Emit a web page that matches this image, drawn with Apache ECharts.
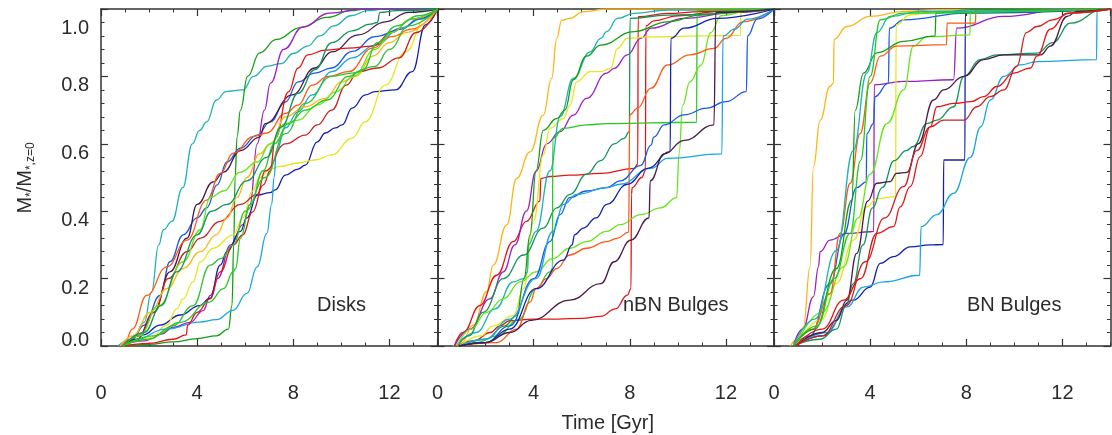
<!DOCTYPE html>
<html>
<head>
<meta charset="utf-8">
<script src="https://cdn.jsdelivr.net/npm/echarts@6/dist/echarts.min.js"></script>
<style>html,body{margin:0;padding:0;background:#fff}#c{width:1112px;height:435px}</style>
</head>
<body>
<div id="c"></div>
<script>
// ---------- tick labels ----------
const xTicks = [0, 4, 8, 12];
const yTicks = [0.0, 0.2, 0.4, 0.6, 0.8, 1.0];
const panelNames = ['Disks', 'nBN Bulges', 'BN Bulges'];

// ---------- Disks: [time Gyr, M/M(z=0)] ----------
const d_teal = [[0.7,0],[1.3,0.02],[1.8,0.07],[2.1,0.16],[2.4,0.3],[2.6,0.345],[2.95,0.37],[3.4,0.47],[3.8,0.6],[4.1,0.64],[4.4,0.665],[4.8,0.73],[5.2,0.755],[5.9,0.76],[6.35,0.8],[6.9,0.83],[7.5,0.838],[8.0,0.868],[8.6,0.89],[9.1,0.92],[9.7,0.95],[10.4,0.98],[11.1,0.995],[11.8,1],[14,1]];
const d_green = [[0.9,0],[2,0.005],[3,0.012],[4,0.022],[4.8,0.03],[5.3,0.05],[5.45,0.12],[5.52,0.3],[5.58,0.5],[5.66,0.62],[5.8,0.7],[6.1,0.8],[6.6,0.87],[7.3,0.91],[8.3,0.945],[9.4,0.975],[10.4,0.995],[11,1],[14,1]];
const d_purple = [[0.8,0],[1.8,0.015],[2.5,0.035],[3.0,0.055],[3.7,0.07],[4.25,0.105],[4.55,0.15],[4.85,0.2],[5.4,0.3],[5.9,0.36],[6.2,0.42],[6.5,0.6],[6.8,0.7],[7.05,0.78],[7.6,0.88],[8.4,0.947],[9.5,0.988],[10.9,1],[14,1]];
const d_darkblue = [[0.9,0],[1.75,0.033],[2.46,0.062],[3.3,0.092],[4.1,0.12],[4.54,0.142],[4.96,0.24],[5.24,0.28],[5.8,0.34],[6.07,0.38],[6.5,0.448],[7.04,0.455],[7.25,0.463],[7.67,0.507],[8.2,0.525],[8.5,0.537],[9.0,0.606],[9.33,0.632],[9.75,0.647],[10.03,0.656],[10.45,0.706],[11.0,0.745],[11.4,0.755],[12.25,0.76],[12.95,0.814],[13.5,0.953],[14,1]];
const d_yellow = [[0.9,0],[2.04,0.024],[2.74,0.062],[3.15,0.11],[3.42,0.14],[3.83,0.19],[4.13,0.25],[4.67,0.29],[5.5,0.33],[5.9,0.38],[6.3,0.46],[6.6,0.5],[7.04,0.525],[7.4,0.532],[8.2,0.543],[8.9,0.552],[9.6,0.567],[10.45,0.617],[11.0,0.666],[11.83,0.774],[12.67,0.873],[13.5,0.972],[14,1]];
const d_lightblue = [[0.9,0],[1.35,0.017],[2.7,0.05],[4.1,0.071],[4.8,0.078],[5.5,0.106],[6.07,0.156],[6.5,0.235],[6.9,0.334],[7.1,0.42],[7.2,0.5],[7.3,0.58],[7.67,0.647],[8.2,0.695],[8.78,0.745],[9.6,0.814],[10.45,0.855],[11.4,0.893],[12.5,0.944],[13.3,0.97],[14,1]];
const d_blue = [[0.9,0],[1.3,0.02],[1.8,0.062],[2.46,0.15],[2.87,0.25],[3.42,0.33],[4.0,0.38],[4.4,0.41],[4.83,0.478],[5.24,0.546],[5.8,0.587],[6.5,0.626],[7.04,0.665],[7.67,0.724],[8.2,0.784],[8.9,0.81],[9.6,0.825],[10.45,0.874],[11.4,0.918],[12.5,0.94],[13.2,0.97],[14,1]];
const d_plum = [[0.9,0],[1.5,0.02],[2.2,0.1],[2.87,0.22],[3.58,0.32],[4.0,0.42],[4.67,0.487],[5.1,0.516],[5.8,0.58],[6.6,0.62],[6.83,0.66],[7.96,0.745],[8.9,0.825],[9.6,0.873],[10.7,0.923],[11.83,0.962],[12.8,0.99],[14,1]];
const d_orangered = [[0.8,0],[1.0,0.01],[1.3,0.05],[1.9,0.15],[2.74,0.235],[3.57,0.314],[4.4,0.433],[4.96,0.512],[5.5,0.572],[6.35,0.622],[6.9,0.632],[7.67,0.69],[8.2,0.715],[8.78,0.774],[9.46,0.8],[10.3,0.814],[11.3,0.884],[12.1,0.918],[12.9,0.94],[14,1]];
const d_red = [[0.9,0],[2.0,0.008],[3.0,0.02],[3.55,0.033],[3.6,0.062],[4.0,0.1],[4.54,0.14],[4.96,0.22],[5.5,0.3],[5.9,0.33],[6.3,0.397],[6.75,0.478],[7.04,0.52],[7.25,0.617],[7.8,0.754],[8.2,0.825],[8.6,0.864],[9.33,0.878],[10.3,0.884],[11.3,0.89],[12.1,0.93],[12.9,0.97],[14,1]];
const d_red2 = [[0.9,0],[1.6,0.03],[2.2,0.1],[2.8,0.2],[3.58,0.28],[4.13,0.32],[4.96,0.37],[5.8,0.42],[6.5,0.45],[6.83,0.52],[7.67,0.6],[8.5,0.626],[9.0,0.656],[9.6,0.7],[10.2,0.774],[10.7,0.814],[11.5,0.825],[12.4,0.855],[13.1,0.93],[14,1]];
const d_orange = [[0.8,0],[1.33,0.03],[2.04,0.1],[2.74,0.17],[3.42,0.23],[4.13,0.28],[4.8,0.33],[5.24,0.38],[5.65,0.44],[6.07,0.5],[6.6,0.57],[7.04,0.6],[7.67,0.68],[8.5,0.71],[9.33,0.735],[10.0,0.784],[10.6,0.8],[11.3,0.86],[12.0,0.9],[12.7,0.93],[14,1]];
const d_lime = [[0.9,0],[1.6,0.03],[2.4,0.12],[3.42,0.25],[4.13,0.345],[4.54,0.44],[5.1,0.46],[5.8,0.516],[6.5,0.546],[7.04,0.6],[7.67,0.66],[8.2,0.67],[9.0,0.715],[9.8,0.755],[10.5,0.8],[11.4,0.88],[12.1,0.93],[12.9,0.97],[14,1]];
const d_bgreen = [[0.9,0],[2.2,0.03],[3.3,0.07],[4.5,0.13],[5.1,0.17],[5.5,0.22],[5.6,0.23],[5.8,0.32],[6.2,0.42],[6.75,0.52],[7.2,0.6],[7.8,0.66],[8.5,0.7],[9.4,0.73],[10.3,0.8],[10.9,0.82],[11.5,0.9],[12.3,0.95],[13.2,0.98],[14,1]];
const d_seagreen = [[0.9,0],[1.8,0.04],[2.5,0.12],[3.15,0.22],[4.0,0.33],[4.6,0.4],[5.24,0.42],[6.07,0.49],[6.9,0.56],[7.5,0.65],[8.2,0.75],[8.9,0.82],[9.6,0.9],[10.45,0.935],[11.2,0.955],[11.5,0.96],[11.6,0.99],[12.3,0.995],[14,1]];
const d_green2 = [[0.9,0],[2.0,0.02],[3.0,0.06],[3.83,0.12],[4.54,0.24],[5.0,0.26],[5.5,0.3],[6.0,0.4],[6.83,0.5],[7.67,0.63],[8.5,0.72],[9.6,0.8],[10.45,0.81],[11.4,0.83],[12.0,0.88],[12.8,0.95],[14,1]];

// ---------- nBN Bulges ----------
const n_orange = [[0.65,0],[1.0,0.01],[1.49,0.062],[2.04,0.161],[2.32,0.24],[2.88,0.359],[3.29,0.497],[3.85,0.576],[4.4,0.685],[4.75,0.794],[4.96,0.913],[5.17,0.967],[5.5,0.972],[6.07,0.992],[7.04,1],[14,1]];
const n_red = [[0.7,0],[1.07,0.04],[1.76,0.12],[2.46,0.21],[3.15,0.31],[3.7,0.37],[4.26,0.43],[4.3,0.497],[4.68,0.503],[5.5,0.507],[6.79,0.512],[8.18,0.527],[8.33,0.54],[8.35,0.977],[9.57,0.987],[10.96,0.992],[14,1]];
const n_redlow = [[0.8,0],[1.5,0.015],[2.2,0.04],[2.6,0.06],[3.0,0.075],[4.0,0.08],[5.0,0.08],[6.0,0.082],[6.79,0.088],[7.4,0.11],[7.9,0.151],[8.05,0.17],[8.07,0.45],[8.1,0.47],[8.5,0.5],[8.65,0.52],[8.67,0.95],[9.0,0.965],[10,0.98],[12,0.995],[14,1]];
const n_purple = [[0.7,0],[1.35,0.05],[2.18,0.14],[2.74,0.22],[3.22,0.3],[3.7,0.4],[4.1,0.518],[4.54,0.6],[5.1,0.636],[5.65,0.685],[6.2,0.735],[7.04,0.81],[7.35,0.824],[7.9,0.864],[8.46,0.913],[8.88,0.943],[10.26,0.972],[12.35,0.99],[14,1]];
const n_yellow = [[0.9,0],[1.8,0.03],[2.32,0.06],[3.15,0.09],[3.58,0.17],[4.0,0.37],[4.4,0.567],[4.68,0.646],[5.24,0.675],[5.52,0.715],[5.79,0.784],[6.35,0.814],[6.79,0.814],[7.2,0.824],[7.49,0.883],[7.9,0.913],[8.88,0.917],[10.96,0.92],[12.6,0.922],[12.62,0.993],[14,1]];
const n_teal = [[0.8,0],[1.6,0.04],[2.4,0.11],[3.15,0.19],[3.58,0.2],[3.75,0.22],[3.78,0.3],[4.1,0.34],[4.68,0.52],[5.1,0.68],[5.65,0.794],[6.35,0.873],[6.79,0.913],[7.04,0.933],[7.49,0.972],[8.18,0.987],[9.57,0.997],[14,1]];
const n_green = [[0.9,0],[2.0,0.02],[2.8,0.06],[3.29,0.09],[3.6,0.2],[3.85,0.33],[4.1,0.52],[4.4,0.64],[4.96,0.675],[5.3,0.7],[5.65,0.79],[6.2,0.86],[6.79,0.893],[8.18,0.933],[9.57,0.962],[10.96,0.982],[12.35,0.993],[14,1]];
const n_seagreen = [[0.8,0],[1.3,0.03],[1.9,0.1],[2.74,0.2],[3.58,0.27],[4.4,0.35],[4.96,0.41],[5.52,0.45],[6.2,0.51],[6.79,0.55],[7.35,0.6],[7.76,0.616],[7.98,0.636],[8.01,0.972],[9.57,0.982],[14,1]];
const n_bgreen = [[0.9,0],[1.6,0.01],[2.5,0.03],[3.4,0.08],[4.1,0.17],[4.68,0.22],[4.78,0.23],[4.8,0.616],[5.24,0.646],[6.2,0.656],[7.04,0.66],[10.78,0.664],[10.8,0.997],[14,1]];
const n_lime = [[0.8,0],[1.4,0.05],[2.04,0.1],[2.74,0.14],[3.44,0.19],[4.1,0.22],[4.8,0.26],[5.5,0.29],[6.2,0.31],[7.04,0.34],[7.6,0.36],[8.46,0.39],[9.29,0.41],[9.95,0.44],[10.05,0.57],[10.2,0.715],[10.5,0.784],[10.96,0.833],[11.37,0.93],[11.8,0.98],[13.0,0.995],[14,1]];
const n_orangered = [[0.9,0],[2.46,0.01],[3.29,0.05],[3.85,0.13],[4.1,0.17],[4.54,0.2],[4.96,0.23],[5.5,0.27],[6.2,0.29],[7.04,0.31],[7.49,0.32],[7.95,0.338],[8.0,0.686],[8.32,0.706],[8.88,0.765],[9.57,0.834],[10.5,0.864],[11.5,0.883],[12.0,0.913],[12.7,0.962],[14,1]];
const n_blue = [[0.9,0],[2.0,0.01],[3.0,0.06],[4.0,0.2],[4.68,0.31],[5.1,0.39],[5.5,0.44],[6.2,0.46],[7.04,0.47],[7.6,0.49],[8.46,0.536],[8.88,0.596],[9.0,0.62],[9.43,0.656],[10.26,0.686],[11.2,0.706],[12.0,0.725],[12.85,0.755],[12.9,0.92],[13.3,0.97],[14,1]];
const n_lightblue = [[0.9,0],[2.0,0.02],[3.0,0.08],[4.1,0.2],[4.8,0.34],[5.24,0.42],[5.8,0.45],[7.04,0.47],[7.6,0.48],[8.88,0.527],[9.57,0.557],[11.83,0.57],[11.88,0.92],[12.35,0.94],[12.9,0.97],[14,1]];
const n_darkblue = [[0.9,0],[2.0,0.01],[3.0,0.05],[4.1,0.17],[5.24,0.255],[5.6,0.3],[5.7,0.33],[6.07,0.35],[6.6,0.38],[7.04,0.42],[7.9,0.48],[8.74,0.527],[9.68,0.577],[9.71,0.913],[10.26,0.943],[11.65,0.972],[14,1]];
const n_plum = [[0.9,0],[2.0,0.01],[3.0,0.04],[3.9,0.076],[5.5,0.136],[6.8,0.185],[7.35,0.25],[8.04,0.314],[8.8,0.38],[8.85,0.49],[9.43,0.57],[10.26,0.61],[11.5,0.656],[11.58,0.99],[14,1]];

// ---------- BN Bulges ----------
const b_orange = [[0.67,0],[1.0,0.02],[1.22,0.056],[1.5,0.235],[1.64,0.53],[1.92,0.67],[2.33,0.77],[2.47,0.78],[2.5,0.91],[3.03,0.948],[4.0,0.978],[5.4,0.993],[6.8,0.998],[14,1]];
const b_purple = [[0.8,0],[1.2,0.05],[1.64,0.146],[1.85,0.235],[1.92,0.28],[2.33,0.314],[3.03,0.334],[4.0,0.339],[4.15,0.34],[4.17,0.775],[5.39,0.785],[7.47,0.79],[7.6,0.943],[9.56,0.978],[12.05,0.998],[14,1]];
const b_blue = [[0.8,0],[1.5,0.03],[2.33,0.185],[2.9,0.33],[3.44,0.47],[3.84,0.487],[3.86,0.63],[4.14,0.66],[4.2,0.74],[4.76,0.78],[4.8,0.943],[5.39,0.968],[8.03,0.988],[14,1]];
const b_darkblue = [[0.9,0],[2.0,0.03],[3.3,0.136],[4.0,0.175],[4.42,0.245],[4.97,0.265],[5.67,0.294],[6.5,0.3],[7.04,0.301],[7.06,0.552],[7.94,0.552],[7.96,0.99],[14,1]];
const b_lightblue = [[0.9,0],[2.2,0.04],[3.03,0.116],[3.72,0.175],[4.56,0.19],[6.06,0.21],[6.12,0.354],[6.78,0.39],[7.47,0.453],[8.17,0.56],[8.6,0.65],[9.0,0.73],[9.56,0.8],[10.25,0.834],[10.94,0.844],[13.42,0.85],[13.44,0.998],[14,1]];
const b_yellow = [[0.9,0],[2.0,0.08],[2.6,0.185],[3.3,0.314],[3.86,0.413],[4.28,0.438],[5.06,0.443],[5.08,0.953],[5.67,0.983],[7,0.995],[14,1]];
const b_lime = [[0.9,0],[2.0,0.1],[2.9,0.235],[3.5,0.38],[4.0,0.51],[4.7,0.66],[5.4,0.76],[5.8,0.89],[6.36,0.918],[8.15,0.923],[8.17,0.993],[14,1]];
const b_orangered = [[0.8,0],[1.6,0.05],[2.33,0.155],[2.75,0.334],[3.17,0.483],[3.58,0.63],[4.0,0.78],[4.42,0.86],[5.1,0.89],[7.18,0.894],[7.2,0.958],[8.38,0.958],[8.4,0.998],[14,1]];
const b_green = [[0.8,0],[1.7,0.05],[2.6,0.23],[3.24,0.433],[3.38,0.7],[3.72,0.81],[4.28,0.87],[5.4,0.904],[6.7,0.92],[6.74,0.988],[8.17,0.998],[14,1]];
const b_teal = [[0.8,0],[1.7,0.08],[2.6,0.284],[3.3,0.58],[3.86,0.81],[4.28,0.93],[4.83,0.978],[6.08,0.993],[14,1]];
const b_bgreen = [[0.8,0],[1.8,0.06],[2.5,0.2],[3.17,0.334],[3.6,0.55],[4.0,0.8],[4.42,0.968],[5.39,0.988],[14,1]];
const b_seagreen = [[0.8,0],[1.9,0.02],[2.6,0.05],[3.0,0.12],[3.3,0.185],[3.7,0.3],[4.1,0.41],[4.5,0.47],[5.0,0.55],[5.5,0.58],[5.8,0.592],[6.36,0.66],[6.78,0.67],[7.47,0.71],[7.9,0.8],[8.58,0.85],[9.28,0.864],[10.94,0.869],[11.6,0.9],[12.33,0.958],[13.7,0.998],[14,1]];
const b_plum = [[0.9,0],[2.0,0.04],[2.6,0.076],[3.03,0.136],[3.44,0.275],[3.9,0.43],[4.28,0.483],[4.83,0.488],[5.1,0.512],[5.53,0.515],[6.0,0.6],[6.64,0.73],[7.06,0.76],[7.9,0.8],[8.72,0.85],[9.56,0.864],[11.1,0.864],[11.5,0.89],[12.2,0.978],[12.6,0.993],[14,1]];
const b_red = [[0.9,0],[2.0,0.05],[2.9,0.136],[3.6,0.2],[4.28,0.334],[4.97,0.354],[5.25,0.413],[5.67,0.473],[6.08,0.562],[6.5,0.65],[6.78,0.71],[7.47,0.72],[8.2,0.725],[8.72,0.74],[9.28,0.77],[9.97,0.81],[10.67,0.825],[10.94,0.86],[11.5,0.94],[12.2,0.988],[14,1]];
const b_red2 = [[0.9,0],[2.0,0.03],[3.0,0.12],[3.8,0.25],[4.6,0.38],[5.39,0.473],[5.94,0.58],[6.5,0.65],[7.06,0.67],[7.9,0.67],[8.44,0.71],[9.0,0.74],[9.56,0.76],[10.1,0.83],[10.5,0.93],[10.94,0.948],[11.6,0.968],[12.33,0.988],[14,1]];

// ---------- styles ----------
const COLORS = {
  teal:'#1fb3b3', green:'#12a012', purple:'#9a1fc4', darkblue:'#1420b0', yellow:'#e6e61a',
  lightblue:'#19a5e6', blue:'#1a5ae6', plum:'#4a1a48', orangered:'#ff5a14', red:'#e61414',
  red2:'#cc2222', redlow:'#e61414', orange:'#ffb414', lime:'#66e61a', bgreen:'#22cc22',
  seagreen:'#14965a', green2:'#33c033'
};
const panels = [
  [['teal',d_teal],['green',d_green],['purple',d_purple],['darkblue',d_darkblue],['yellow',d_yellow],['lightblue',d_lightblue],['blue',d_blue],['plum',d_plum],['orangered',d_orangered],['red',d_red],['red2',d_red2],['orange',d_orange],['lime',d_lime],['bgreen',d_bgreen],['seagreen',d_seagreen],['green2',d_green2]],
  [['orange',n_orange],['red',n_red],['redlow',n_redlow],['purple',n_purple],['yellow',n_yellow],['teal',n_teal],['green',n_green],['seagreen',n_seagreen],['bgreen',n_bgreen],['lime',n_lime],['orangered',n_orangered],['blue',n_blue],['lightblue',n_lightblue],['darkblue',n_darkblue],['plum',n_plum]],
  [['orange',b_orange],['purple',b_purple],['blue',b_blue],['darkblue',b_darkblue],['lightblue',b_lightblue],['yellow',b_yellow],['lime',b_lime],['orangered',b_orangered],['green',b_green],['teal',b_teal],['bgreen',b_bgreen],['seagreen',b_seagreen],['plum',b_plum],['red',b_red],['red2',b_red2]]
];

const FONT = '"Liberation Sans", Arial, Helvetica, sans-serif';
const TXT = '#2b2b2b';
const FRAME = '#333';
const GL = 101, GW = 336.5, GT = 9, GH = 337;

const grids = [], xAxes = [], yAxes = [], series = [];
for (let i = 0; i < 3; i++) {
  grids.push({left: GL + i * GW, top: GT, width: GW, height: GH, containLabel: false, outerBoundsMode: 'none'});
  const base = {type: 'value', gridIndex: i, min: 0, max: 14, splitLine: {show: false}};
  // bottom major (labels)
  xAxes.push(Object.assign({}, base, {
    position: 'bottom', interval: 4,
    axisLine: {show: true, onZero: false, lineStyle: {color: FRAME, width: 1.5}},
    axisTick: {show: true, inside: true, length: 7, lineStyle: {color: FRAME, width: 1.2}},
    axisLabel: {show: true, margin: 37, fontSize: 20, fontFamily: FONT, color: TXT, showMaxLabel: false,
      formatter: v => String(v)},
    name: i === 1 ? 'Time [Gyr]' : '', nameLocation: 'middle', nameGap: 67,
    nameTextStyle: {fontSize: 20, fontFamily: FONT, color: TXT, padding: [0, 0, 0, 4]}
  }));
  // top major
  xAxes.push(Object.assign({}, base, {
    position: 'top', interval: 4,
    axisLine: {show: true, onZero: false, lineStyle: {color: FRAME, width: 1.5}},
    axisTick: {show: true, inside: true, length: 7, lineStyle: {color: FRAME, width: 1.2}},
    axisLabel: {show: false}
  }));
  // minor (1 Gyr) ticks, bottom & top
  for (let k = 0; k < 2; k++) {
    xAxes.push(Object.assign({}, base, {
      position: k === 0 ? 'bottom' : 'top', interval: 1,
      axisLine: {show: false, onZero: false},
      axisTick: {show: true, inside: true, length: 3.5, lineStyle: {color: FRAME, width: 1}},
      axisLabel: {show: false}
    }));
  }
  const ybase = {type: 'value', gridIndex: i, min: 0, max: 1, interval: 0.2, splitLine: {show: false},
    axisLine: {show: true, onZero: false, lineStyle: {color: FRAME, width: 1.5}},
    axisTick: {show: true, inside: true, length: 7, lineStyle: {color: FRAME, width: 1.2}},
    minorTick: {show: true, splitNumber: 5, length: 3.5, lineStyle: {color: FRAME, width: 1}}};
  yAxes.push(Object.assign({}, ybase, {
    position: 'left',
    axisLabel: i === 0 ? {
      show: true, margin: 12, fontSize: 20, fontFamily: FONT, color: TXT,
      formatter: v => {
        const s = v.toFixed(1);
        if (v >= 0.999) return '{t|' + s + '}';
        if (v <= 0.001) return '{b|' + s + '}';
        return '{m|' + s + '}';
      },
      rich: {
        t: {fontSize: 20, fontFamily: FONT, color: TXT, padding: [38, 0, 0, 0]},
        m: {fontSize: 20, fontFamily: FONT, color: TXT, padding: [19, 0, 0, 0]},
        b: {fontSize: 20, fontFamily: FONT, color: TXT, padding: [0, 0, 11, 0]}
      }
    } : {show: false}
  }));
  yAxes.push(Object.assign({}, ybase, {position: 'right', axisLabel: {show: false}}));

  panels[i].forEach(([key, data]) => {
    series.push({
      type: 'line', xAxisIndex: i * 4, yAxisIndex: i * 2, data: data,
      showSymbol: false, symbol: 'none', smooth: 0.45, smoothMonotone: 'x',
      lineStyle: {color: COLORS[key], width: 1.3}, emphasis: {disabled: true}, silent: true,
      animation: false
    });
  });
}

const panelLabelX = [317, 623, 967];
const graphic = panelNames.map((t, i) => ({
  type: 'text', left: panelLabelX[i], top: 295,
  style: {text: t, fontSize: 20, fontFamily: FONT, fill: TXT}
}));
graphic.push({
  type: 'text', x: 25, y: 178, rotation: Math.PI / 2,
  style: {
    text: '{m|M}{s|*}{m|/M}{s|*,z=0}',
    align: 'center', verticalAlign: 'middle',
    rich: {
      m: {fontSize: 20, fontFamily: FONT, fill: TXT},
      s: {fontSize: 12, fontFamily: FONT, fill: TXT, padding: [12, 0, 0, 0]}
    }
  }
});

const chart = echarts.init(document.getElementById('c'), null, {renderer: 'canvas'});
chart.setOption({
  animation: false,
  backgroundColor: '#fff',
  grid: grids, xAxis: xAxes, yAxis: yAxes, series: series, graphic: graphic
});
</script>
</body>
</html>
